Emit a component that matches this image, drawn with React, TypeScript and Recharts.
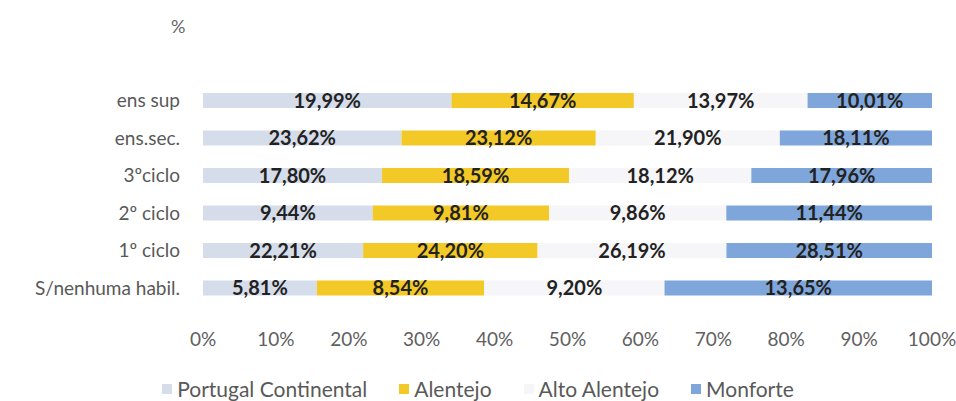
import React from 'react';
import { BarChart, Bar, XAxis, YAxis, LabelList } from 'recharts';

const categories = ['ens sup', 'ens.sec.', '3ºciclo', '2º ciclo', '1º ciclo', 'S/nenhuma habil.'];
const portugalContinental = [19.99, 23.62, 17.8, 9.44, 22.21, 5.81];
const alentejo = [14.67, 23.12, 18.59, 9.81, 24.2, 8.54];
const altoAlentejo = [13.97, 21.9, 18.12, 9.86, 26.19, 9.2];
const monforte = [10.01, 18.11, 17.96, 11.44, 28.51, 13.65];
const xTicks = [0, 0.1, 0.2, 0.3, 0.4, 0.5, 0.6, 0.7, 0.8, 0.9, 1];

const data = categories.map((name, i) => ({
  name,
  pc: portugalContinental[i],
  al: alentejo[i],
  aa: altoAlentejo[i],
  mf: monforte[i],
}));

const font = 'Lato, "Open Sans", sans-serif';
const fmt = (v: any) => `${Number(v).toFixed(2).replace('.', ',')}%`;

const series = [
  { key: 'pc', name: 'Portugal Continental', color: '#d5dcea' },
  { key: 'al', name: 'Alentejo', color: '#f3c928' },
  { key: 'aa', name: 'Alto Alentejo', color: '#f6f6f8' },
  { key: 'mf', name: 'Monforte', color: '#7fa6da' },
];

export default function App() {
  return (
    <div style={{ position: 'absolute', left: 0, top: 0, width: 956, height: 401, background: '#fff', fontFamily: font }}>
      <div style={{ position: 'absolute', left: 171, top: 15, fontSize: 18, color: '#666' }}>%</div>
      <BarChart
        width={956}
        height={401}
        data={data}
        layout="vertical"
        stackOffset="expand"
        barSize={15}
        margin={{ top: 82, right: 24, bottom: 49, left: 0 }}
      >
        <XAxis
          type="number"
          domain={[0, 1]}
          ticks={xTicks}
          height={45}
          tickFormatter={(v) => `${Math.round(v * 100)}%`}
          axisLine={false}
          tickLine={false}
          tickSize={0}
          tickMargin={26}
          tick={{ fontSize: 19, fill: '#606060', fontFamily: font }}
          interval={0}
        />
        <YAxis
          type="category"
          dataKey="name"
          width={203}
          axisLine={false}
          tickLine={false}
          tickSize={0}
          tickMargin={23}
          tick={{ fontSize: 19, fill: '#595959', fontFamily: font }}
          interval={0}
        />
        {series.map((s) => (
          <Bar key={s.key} dataKey={s.key} name={s.name} stackId="a" fill={s.color} isAnimationActive={false}>
            <LabelList
              dataKey={s.key}
              position="center"
              formatter={fmt}
              style={{ fontSize: 20, fontWeight: 700, fill: '#222', fontFamily: font }}
            />
          </Bar>
        ))}
      </BarChart>
      <div
        style={{
          position: 'absolute',
          left: 0,
          top: 377,
          width: 956,
          display: 'flex',
          justifyContent: 'center',
          gap: 32,
          fontSize: 21,
          color: '#595959',
          lineHeight: '24px',
        }}
      >
        {series.map((s) => (
          <div key={s.key} style={{ display: 'flex', alignItems: 'center' }}>
            <span style={{ display: 'inline-block', width: 10, height: 10, background: s.color, marginRight: 5 }} />
            <span>{s.name}</span>
          </div>
        ))}
      </div>
    </div>
  );
}
